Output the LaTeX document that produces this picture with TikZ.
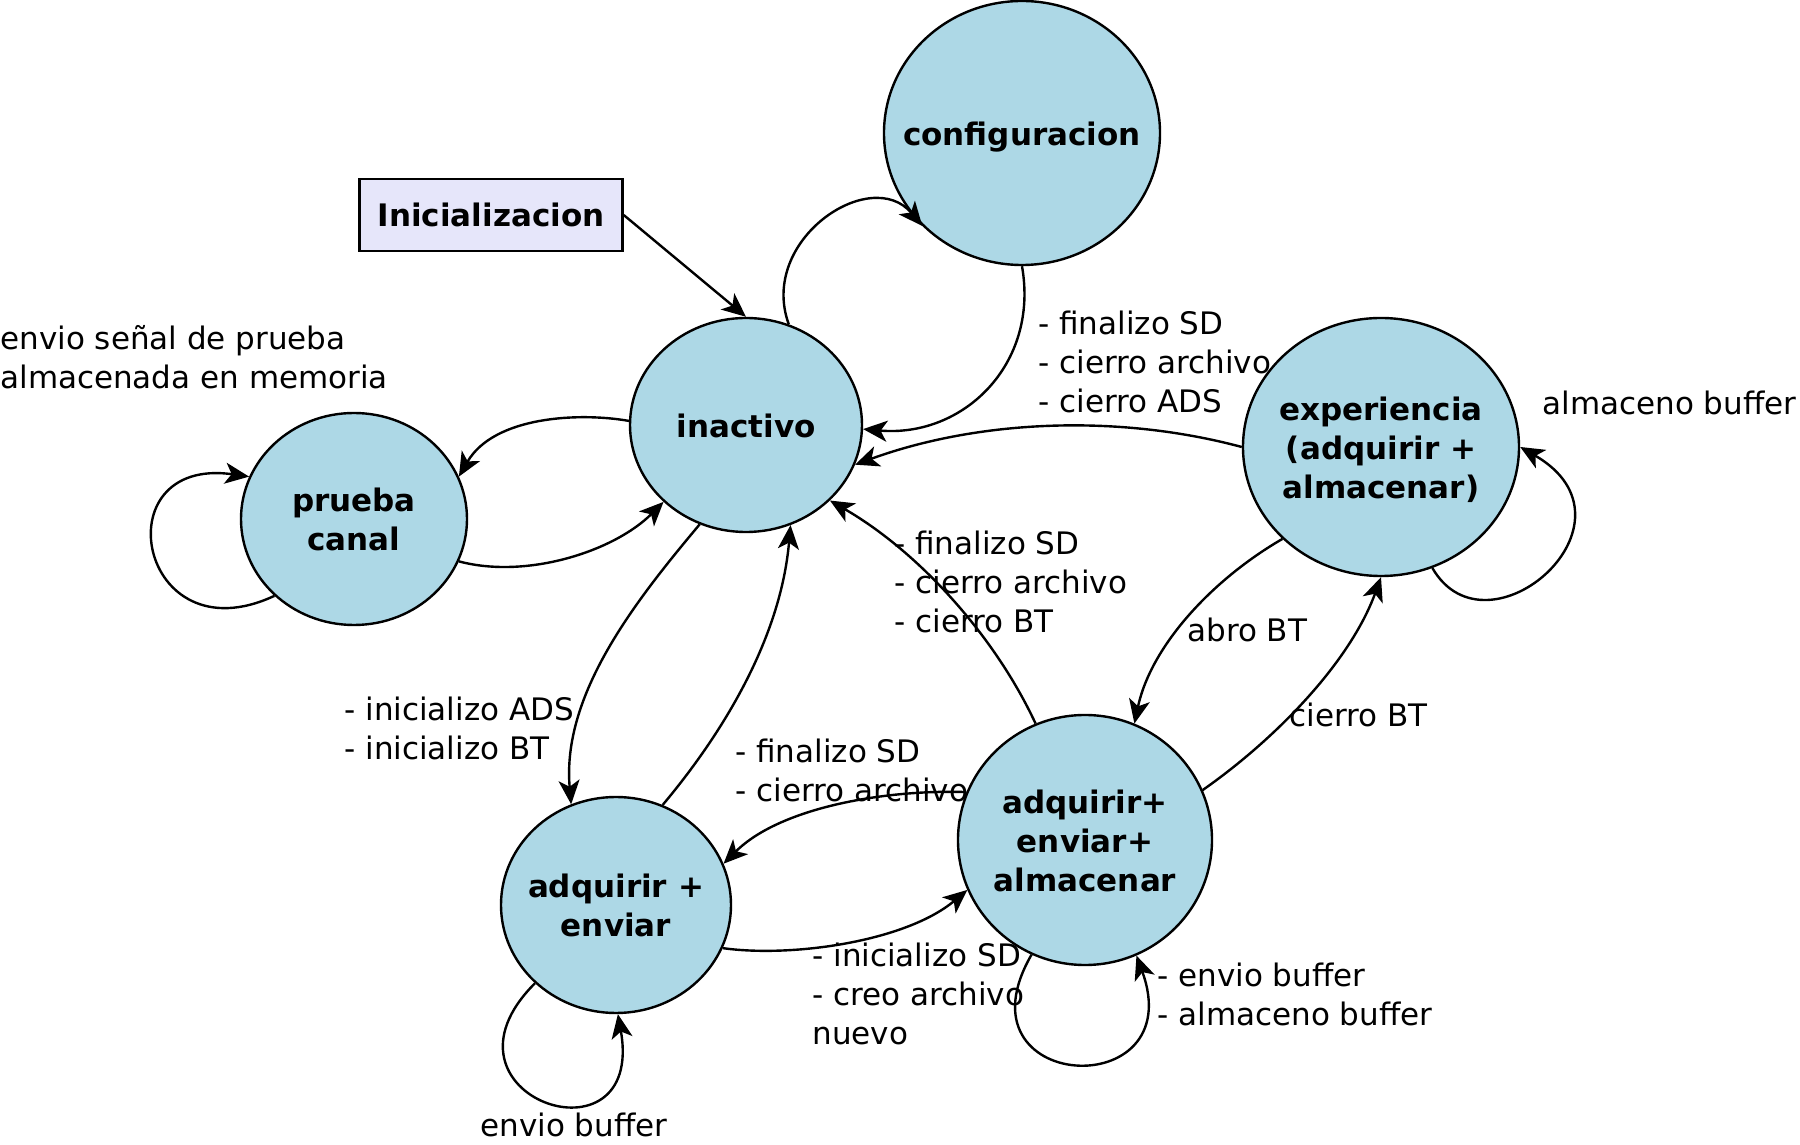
\documentclass[tikz,border=0pt]{standalone}
\usepackage{fontspec}
\setmainfont{DejaVu Sans}
\usepackage{tikz}
\usetikzlibrary{arrows.meta,shapes.geometric}

\definecolor{estadoazul}{HTML}{ADD8E6}
\definecolor{inicioazul}{HTML}{E6E6FA}

% texto centrado sin ancho, para que la elipse no crezca
\newcommand{\txtest}[1]{\raisebox{-2.2bp}[\height][\depth]{\makebox[0pt]{\begin{tabular}{@{}c@{}}#1\end{tabular}}}}

\begin{document}
\begin{tikzpicture}[x=0.5bp, y=0.5bp,
  font=\fontsize{15.5bp}{19.5bp}\selectfont,
  estado/.style={draw, ellipse, fill=estadoazul, line width=1.2bp, inner sep=0pt,
    font=\fontsize{15.5bp}{19.5bp}\selectfont\bfseries},
  inicio/.style={draw, rectangle, fill=inicioazul, line width=1.2bp, inner sep=0pt,
    minimum width=131.5bp, minimum height=36bp,
    font=\fontsize{15.5bp}{19.5bp}\selectfont\bfseries},
  etiqueta/.style={inner sep=0pt, anchor=west, align=left},
  flecha/.style={-{Stealth[length=12bp, width=10.5bp, inset=3.2bp]}, line width=1.2bp}]
  \useasboundingbox (0,0) rectangle (1800,-1145);

  % Nodes
  \node[estado, minimum width=138bp, minimum height=132bp] (config) at (1022,-133) {\txtest{configuracion}};
  \node[inicio] (init) at (491,-215) {Inicializacion};
  \node[estado, minimum width=116bp, minimum height=107bp] (inactivo) at (746,-425) {\txtest{inactivo}};
  \node[estado, minimum width=113bp, minimum height=106bp] (prueba) at (354,-519) {\txtest{prueba\\canal}};
  \node[estado, minimum width=138bp, minimum height=129bp] (exper) at (1381,-447) {\txtest{experiencia\\(adquirir +\\almacenar)}};
  \node[estado, minimum width=115bp, minimum height=108bp] (aqenv) at (616,-905) {\txtest{adquirir +\\enviar}};
  \node[estado, minimum width=127bp, minimum height=125bp] (aea) at (1085,-840) {\txtest{adquirir+\\enviar+\\almacenar}};

  % Arrows
  \draw[flecha] (init.east) -- (inactivo.north);
  \draw[flecha] (inactivo.67) .. controls +(110:90) and +(130:80) .. (config.223);
  \draw[flecha] (config.south) .. controls +(-80:100) and +(-5:100) .. (inactivo.-2);
  \draw[flecha] (exper.west) .. controls +(165:130) and +(20:130) .. (inactivo.-20);
  \draw[flecha] (inactivo.178) .. controls +(170:50) and +(60:70) .. (prueba.22);
  \draw[flecha] (prueba.-22) .. controls +(-15:70) and +(-135:70) .. (inactivo.-137);
  \draw[flecha] (prueba.224) .. controls +(-155:150) and +(172:150) .. (prueba.158);
  \draw[flecha] (inactivo.-115) .. controls +(-130:100) and +(95:110) .. (aqenv.114);
  \draw[flecha] (aqenv.65) .. controls +(50:100) and +(-95:110) .. (inactivo.-66);
  \draw[flecha] (aea.113) .. controls +(115:100) and +(-30:100) .. (inactivo.-42);
  \draw[flecha] (aea.158) .. controls +(178:80) and +(45:80) .. (aqenv.21);
  \draw[flecha] (aqenv.-22) .. controls +(-8:70) and +(-140:80) .. (aea.-157);
  \draw[flecha] (aqenv.224) .. controls +(-135:160) and +(-80:160) .. (aqenv.-89);
  \draw[flecha] (exper.-137) .. controls +(-150:80) and +(78:80) .. (aea.67);
  \draw[flecha] (aea.23) .. controls +(35:90) and +(-110:90) .. (exper.south);
  \draw[flecha] (aea.-115) .. controls +(-120:160) and +(-70:160) .. (aea.-66);
  \draw[flecha] (exper.-67) .. controls +(-60:110) and +(-30:150) .. (exper.east);

  % Labels
  \node[etiqueta] (lprueba) at (0,-357) {envio señal de prueba\\almacenada en memoria};
  \node[etiqueta] (lexper) at (1038,-362) {- finalizo SD\\- cierro archivo\\- cierro ADS};
  \node[etiqueta] (laea) at (894,-582) {- finalizo SD\\- cierro archivo\\- cierro BT};
  \node[etiqueta] (linact) at (344,-728) {- inicializo ADS\\- inicializo BT};
  \node[etiqueta] (laeaq) at (735,-770) {- finalizo SD\\- cierro archivo};
  \node[etiqueta] (laqaea) at (812,-994) {- inicializo SD\\- creo archivo\\nuevo};
  \node[etiqueta] (labro) at (1187,-630) {abro BT};
  \node[etiqueta] (lcierro) at (1289,-715) {cierro BT};
  \node[etiqueta] (lbufaea) at (1157,-994) {- envio buffer\\- almaceno buffer};
  \node[etiqueta, anchor=center] (lbufaq) at (574,-1125) {envio buffer};
  \node[etiqueta] (lbufexp) at (1542,-403) {almaceno buffer};
\end{tikzpicture}
\end{document}
